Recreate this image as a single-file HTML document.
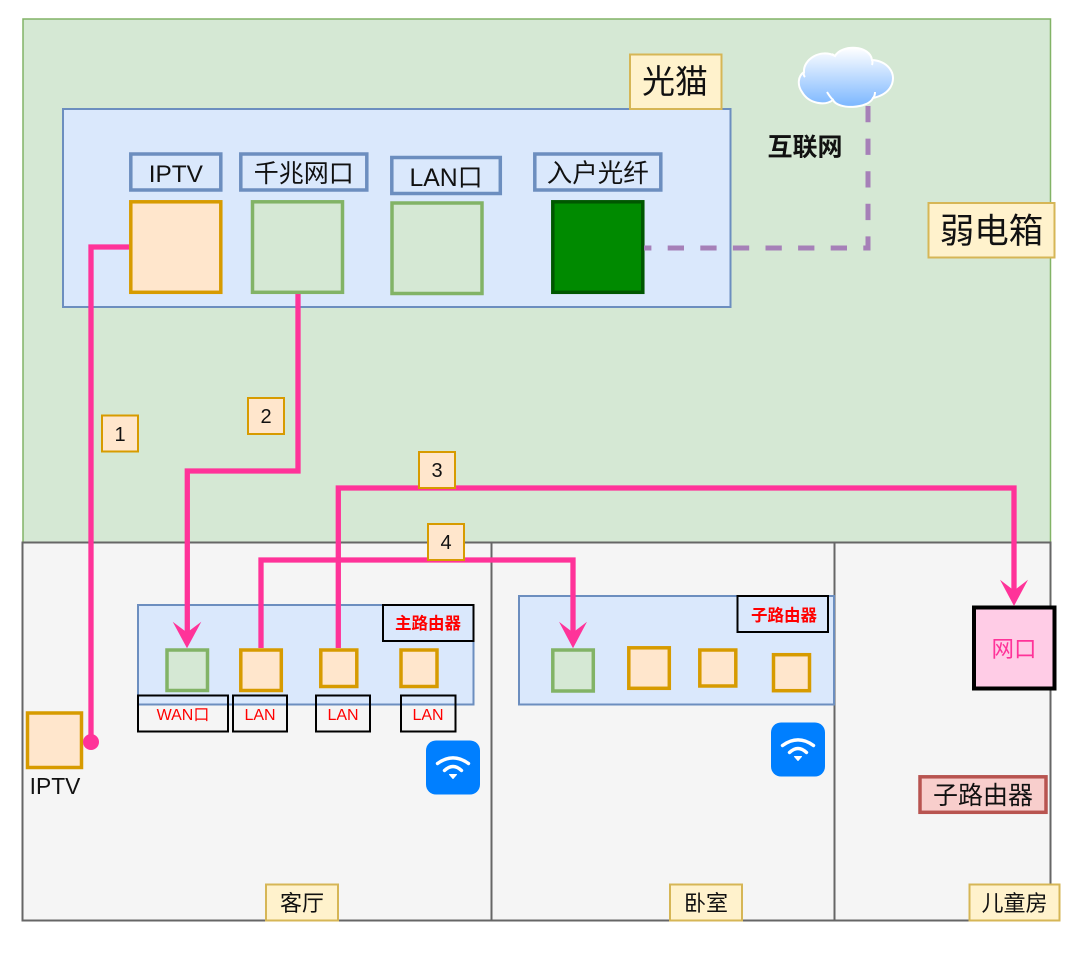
<!DOCTYPE html>
<html lang="zh">
<head>
<meta charset="utf-8">
<title>家庭网络拓扑</title>
<style>
html,body{margin:0;padding:0;background:#fff;width:1080px;height:954px;overflow:hidden}
svg{display:block}
text{font-family:"Liberation Sans","WenQuanYi Zen Hei","Noto Sans CJK SC",sans-serif;text-anchor:middle;fill:#111}
.o{fill:#ffe6cc;stroke:#d79b00;stroke-width:3.5}
.g{fill:#d5e8d4;stroke:#82b366;stroke-width:3.5}
.b{fill:#dae8fc;stroke:#6c8ebf;stroke-width:2}
.l{fill:#dae8fc;stroke:#6c8ebf;stroke-width:3.5}
.y{fill:#fff2cc;stroke:#d6b656;stroke-width:2}
.n{fill:#ffe6cc;stroke:#d79b00;stroke-width:2}
.r{fill:#f5f5f5;stroke:#666;stroke-width:2}
.k{fill:none;stroke:#000;stroke-width:2}
.p{fill:none;stroke:#ff3399;stroke-width:5.3}
.red{fill:#ff0000}
</style>
</head>
<body>
<svg width="1080" height="954" viewBox="0 0 1080 954" xmlns="http://www.w3.org/2000/svg">
<defs>
<linearGradient id="cg" x1="0" y1="0" x2="0" y2="1"><stop offset="0" stop-color="#ffffff"/><stop offset="1" stop-color="#7ab6ff"/></linearGradient>
<g id="wifi">
<rect width="54" height="54" rx="10" fill="#007fff"/>
<path d="M11.5 23 Q27 11.8 42.5 23" fill="none" stroke="#fff" stroke-width="3.4" stroke-linecap="round"/>
<path d="M18.5 30 Q27 22 35.5 30" fill="none" stroke="#fff" stroke-width="3.4" stroke-linecap="round"/>
<polygon points="23.5,34 30.5,34 27,38" fill="#fff" stroke="#fff" stroke-width="1" stroke-linejoin="round"/>
</g>
</defs>

<!-- weak current box -->
<rect x="23" y="19" width="1027.5" height="523.5" fill="#d5e8d4" stroke="#82b366" stroke-width="1.5"/>

<!-- rooms -->
<rect class="r" x="22.5" y="542.5" width="469" height="378"/>
<rect class="r" x="491.5" y="542.5" width="343" height="378"/>
<rect class="r" x="834.5" y="542.5" width="216" height="378"/>

<!-- modem -->
<rect class="b" x="63" y="109" width="667.5" height="198"/>
<rect class="y" x="630" y="54.5" width="91.5" height="54.5"/>
<text x="675" y="93" font-size="33">光猫</text>

<rect class="l" x="130.8" y="154" width="90" height="36"/>
<text x="175.8" y="182" font-size="24.4">IPTV</text>
<rect class="l" x="240.8" y="154" width="126" height="36"/>
<text x="303.8" y="182" font-size="25">千兆网口</text>
<rect class="l" x="391.8" y="157.5" width="108.5" height="36"/>
<text x="446" y="186" font-size="24.8">LAN口</text>
<rect class="l" x="534.8" y="154" width="126" height="36"/>
<text x="597.8" y="182" font-size="25.5">入户光纤</text>

<rect class="o" x="130.8" y="201.8" width="90" height="90.5"/>
<rect class="g" x="252.5" y="201.8" width="90" height="90.5"/>
<rect class="g" x="392" y="203" width="90" height="90.5"/>
<rect x="552.8" y="201.8" width="90" height="90.5" fill="#008a00" stroke="#005700" stroke-width="3.5"/>

<!-- cloud -->
<path d="M804 72 C803 60 820 48 835 56 C842 44 870 45 872 60 C887 61 896 72 892 84 C889 92 882 96 873 98 C868 109 838 110 833 100 C825 106 809 104 802 92 C797 85 798 76 804 72 Z" fill="url(#cg)" stroke="#fff" stroke-width="2"/>
<path d="M827 92 Q830 97 833 100 M875 92 Q875 96 873 98 M872 60 Q873 62 872 65 M835 56 L832 54 M804 72 Q803 75 805 77" fill="none" stroke="#fff" stroke-width="2"/>
<text x="805" y="155.5" font-size="25" font-weight="bold" fill="#000">互联网</text>

<path d="M868 106 V248 H644" fill="none" stroke="#a680b8" stroke-width="5" stroke-dasharray="16.3 16.3"/>

<rect class="y" x="928.5" y="203" width="126" height="54.5"/>
<text x="991.5" y="243" font-size="34.5">弱电箱</text>

<!-- routers -->
<rect class="b" x="138" y="605" width="335.5" height="99.5"/>
<rect class="k" x="383" y="605" width="90.5" height="36"/>
<text x="428" y="629" font-size="16.5" font-weight="bold" class="red">主路由器</text>
<rect class="g" x="167" y="650" width="40.5" height="40.5"/>
<rect class="o" x="240.8" y="650" width="40.5" height="40.5"/>
<rect class="o" x="320.8" y="650" width="36" height="36.5"/>
<rect class="o" x="401" y="650" width="36" height="36.5"/>

<rect class="k" x="138" y="695.5" width="90" height="36"/>
<text x="183" y="720" font-size="16" class="red">WAN口</text>
<rect class="k" x="233" y="695.5" width="54" height="36"/>
<text x="260" y="720" font-size="16" class="red">LAN</text>
<rect class="k" x="316" y="695.5" width="54" height="36"/>
<text x="343" y="720" font-size="16" class="red">LAN</text>
<rect class="k" x="401" y="695.5" width="54.5" height="36"/>
<text x="428" y="720" font-size="16" class="red">LAN</text>

<rect class="b" x="519" y="596" width="315" height="108.5"/>
<rect class="k" x="737.5" y="596" width="90.5" height="36"/>
<text x="784" y="621" font-size="16.5" font-weight="bold" class="red">子路由器</text>
<rect class="g" x="552.8" y="650" width="40.5" height="41"/>
<rect class="o" x="628.8" y="647.8" width="40.5" height="40.5"/>
<rect class="o" x="699.8" y="650" width="36" height="36"/>
<rect class="o" x="773.5" y="654.7" width="36" height="36"/>

<use href="#wifi" x="426" y="740.5"/>
<use href="#wifi" x="771" y="722.5"/>

<!-- IPTV device -->
<rect class="o" x="27.5" y="713" width="54" height="54.5"/>
<text x="55" y="794" font-size="22.8">IPTV</text>

<!-- network port -->
<rect x="974" y="607.5" width="80.5" height="81" fill="#ffcce6" stroke="#000" stroke-width="4"/>
<text x="1014" y="657" font-size="22.5" fill="#ff3399" style="fill:#ff3399">网口</text>

<rect x="920" y="776.8" width="126" height="35.5" fill="#f8cecc" stroke="#b85450" stroke-width="3.5"/>
<text x="983" y="804" font-size="25">子路由器</text>

<!-- pink connectors -->
<path class="p" d="M129 247 H91 V742"/>
<circle cx="91" cy="742" r="8" fill="#ff3399"/>
<path class="p" d="M298 294 V471 H187.3 V635"/>
<polygon points="187,648.3 172.7,621.7 187,632.5 201.3,621.7" fill="#ff3399"/>
<path class="p" d="M338.3 648 V488 H1014 V594"/>
<polygon points="1014,606 1000,579.7 1014,590.5 1028,579.7" fill="#ff3399"/>
<path class="p" d="M261 648 V560 H573 V635"/>
<polygon points="573,648.3 559,621.7 573,632.5 587,621.7" fill="#ff3399"/>

<!-- number tags -->
<rect class="n" x="102" y="415.5" width="36" height="36"/>
<text x="120" y="441" font-size="20">1</text>
<rect class="n" x="248" y="398" width="36" height="36"/>
<text x="266" y="423" font-size="20">2</text>
<rect class="n" x="419" y="452" width="36" height="36"/>
<text x="437" y="477" font-size="20">3</text>
<rect class="n" x="428" y="524" width="36" height="36"/>
<text x="446" y="549" font-size="20">4</text>

<!-- room tags -->
<rect class="y" x="266" y="884.5" width="72" height="36"/>
<text x="302" y="911" font-size="22">客厅</text>
<rect class="y" x="670" y="884.5" width="72" height="36"/>
<text x="706" y="911" font-size="22">卧室</text>
<rect class="y" x="969.5" y="884.5" width="90" height="36"/>
<text x="1014.5" y="911" font-size="22">儿童房</text>
</svg>
</body>
</html>
